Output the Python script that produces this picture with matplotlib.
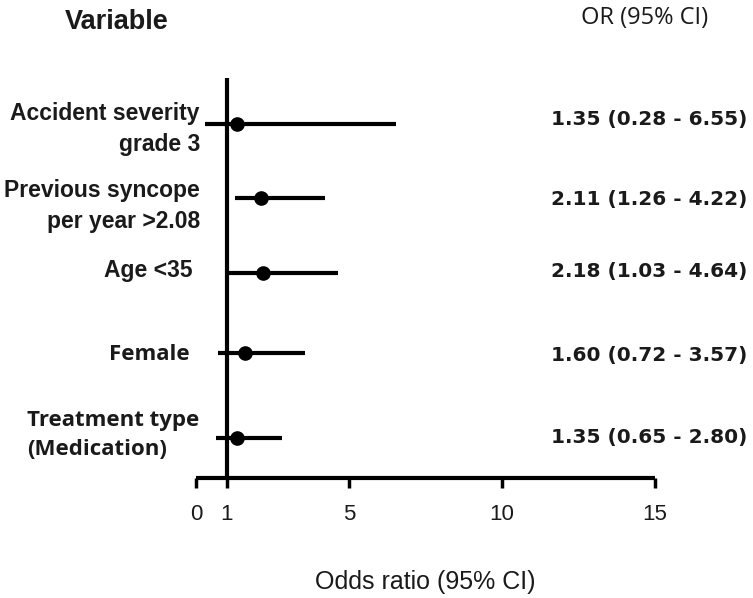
import matplotlib
matplotlib.use("Agg")
import matplotlib.pyplot as plt

# ---- data ----
variables = ["Accident severity\ngrade 3",
             "Previous syncope\nper year >2.08",
             "Age <35",
             "Female",
             "Treatment type\n(Medication)"]
odds_ratio = [1.35, 2.11, 2.18, 1.60, 1.35]
ci_low = [0.28, 1.26, 1.03, 0.72, 0.65]
ci_high = [6.55, 4.22, 4.64, 3.57, 2.80]
or_labels = ["1.35 (0.28 - 6.55)", "2.11 (1.26 - 4.22)", "2.18 (1.03 - 4.64)",
             "1.60 (0.72 - 3.57)", "1.35 (0.65 - 2.80)"]
x_ticks = [0, 1, 5, 10, 15]

# ---- layout (pixel rows from the top of the figure) ----
W, H = 753, 598
row_y = [124, 198, 273, 353, 438]

arial = ["Liberation Sans", "DejaVu Sans"]
wide = ["Open Sans", "DejaVu Sans"]

fig = plt.figure(figsize=(W / 100, H / 100), dpi=100)
ax_left, ax_right, ax_bottom, ax_top = 196, 655, 478, 60
ax = fig.add_axes([ax_left / W, 1 - ax_bottom / H,
                   (ax_right - ax_left) / W, (ax_bottom - ax_top) / H])
ax.set_xlim(0, 15)
ax.set_ylim(ax_bottom, ax_top)

for s in ["top", "right", "left"]:
    ax.spines[s].set_visible(False)
ax.spines["bottom"].set_linewidth(3)
ax.spines["bottom"].set_capstyle("butt")
ax.set_yticks([])
ax.set_xticks(x_ticks)
ax.set_xticklabels([str(t) for t in x_ticks], fontsize=16, family=arial, color="#1a1a1a")
ax.tick_params(axis="x", direction="out", length=7, width=2.5, pad=12)

# reference line at OR = 1
ax.plot([1, 1], [78, ax_bottom], color="black", lw=3, solid_capstyle="butt", clip_on=False)

for i in range(len(variables)):
    y = row_y[i]
    ax.plot([ci_low[i], ci_high[i]], [y, y], color="black", lw=3,
            solid_capstyle="butt", clip_on=False)
    ax.plot([odds_ratio[i]], [y], marker="o", color="black", markersize=9.5, clip_on=False)

# left labels: (x, y, ha, multialign, font, size)
label_pos = [(200, 129, "right", "right", arial, 16.5),
             (200, 206, "right", "right", arial, 16.5),
             (192, 271, "right", "right", arial, 16.5),
             (190, 355, "right", "right", wide, 16),
             (27, 435, "left", "left", wide, 16)]
for i, (lx, ly, ha, ma, fam, fs) in enumerate(label_pos):
    fig.text(lx / W, 1 - ly / H, variables[i], ha=ha, va="center",
             multialignment=ma, fontsize=fs, fontweight="bold",
             family=fam, linespacing=1.45, color="#1a1a1a")

# right labels
value_y = [120, 200, 271, 355, 437]
for i, vy in enumerate(value_y):
    fig.text(551 / W, 1 - vy / H, or_labels[i], ha="left", va="center",
             fontsize=14.5, fontweight="bold", family="DejaVu Sans", color="#1a1a1a")

fig.text(117 / W, 1 - 22 / H, "Variable", ha="center", va="center",
         fontsize=19.5, fontweight="bold", family=arial, color="#1a1a1a")
fig.text(645 / W, 1 - 18 / H, "OR (95% CI)", ha="center", va="center",
         fontsize=17, family=wide, color="#1a1a1a")
fig.text(425 / W, 1 - 582 / H, "Odds ratio (95% CI)", ha="center", va="center",
         fontsize=18, family=arial, color="#1a1a1a")

fig.savefig("out.png", dpi=100)
